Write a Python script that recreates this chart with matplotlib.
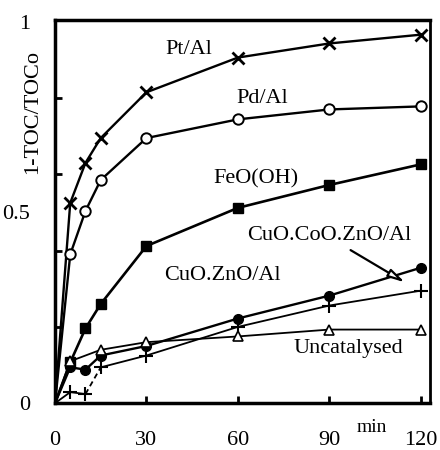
import numpy as np
import matplotlib
matplotlib.use("Agg")
import matplotlib.pyplot as plt
from matplotlib.ticker import FixedLocator

plt.rcParams["font.family"] = ["Liberation Serif", "DejaVu Serif"]

# data (time in min, 1-TOC/TOCo)
t = [0, 5, 10, 15, 30, 60, 90, 120]
pt_al = [0, 0.525, 0.63, 0.695, 0.815, 0.906, 0.943, 0.966]
pd_al = [0, 0.39, 0.504, 0.585, 0.695, 0.744, 0.77, 0.778]
feooh = [0, 0.107, 0.196, 0.26, 0.412, 0.512, 0.572, 0.626]
cuo_coo = [0, 0.094, 0.088, 0.125, 0.15, 0.222, 0.282, 0.355]
cuo_zno = [0, 0.029, 0.024, 0.094, 0.125, 0.2, 0.256, 0.295]
t_unc = [0, 5, 15, 30, 60, 90, 120]
uncat = [0, 0.11, 0.14, 0.16, 0.175, 0.193, 0.193]

fig = plt.figure(figsize=(4.4, 4.5), dpi=100)
ax = fig.add_axes([0.125, 0.104, 0.852, 0.852])

# catalysed curves (no marker drawn at the origin)
skip0 = slice(1, None)
ax.plot(t, pt_al, color="black", lw=1.7, marker="x", ms=9, mew=2, markevery=skip0)
ax.plot(t, pd_al, color="black", lw=1.7, marker="o", ms=7.5, mfc="white", mew=1.4,
        markevery=skip0)
ax.plot(t, feooh, color="black", lw=1.9, marker="s", ms=7.5, markevery=skip0)
ax.plot(t, cuo_coo, color="black", lw=1.7, marker="o", ms=7, markevery=skip0)
# CuO.ZnO/Al, with the dashed bit between 10 and 15 min
ax.plot(t[:3], cuo_zno[:3], color="black", lw=1.3, marker="+", ms=10, mew=1.5)
ax.plot(t[2:4], cuo_zno[2:4], color="black", lw=1.3, ls=(0, (3, 2)))
ax.plot(t[3:], cuo_zno[3:], color="black", lw=1.3, marker="+", ms=10, mew=1.5)
ax.plot(t_unc, uncat, color="black", lw=1.3, marker="^", ms=6.5, mfc="white", mew=1.2,
        markevery=skip0)

# labels on the curves
fs = 16
ax.text(43.8, 0.927, "Pt/Al", fontsize=fs, ha="center", va="center")
ax.text(68, 0.80, "Pd/Al", fontsize=fs, ha="center", va="center")
ax.text(65.8, 0.587, "FeO(OH)", fontsize=fs, ha="center", va="center")
ax.text(55, 0.334, "CuO.ZnO/Al", fontsize=fs, ha="center", va="center")
ax.text(90, 0.439, "CuO.CoO.ZnO/Al", fontsize=fs, ha="center", va="center")
ax.text(96.2, 0.144, "Uncatalysed", fontsize=fs, ha="center", va="center")
ax.annotate("", xy=(115.6, 0.313), xytext=(96.2, 0.405),
            arrowprops=dict(arrowstyle="-|>,head_length=1.0,head_width=0.25",
                            fc="white", ec="black", lw=1.6))

ax.set_xlim(0, 123)
ax.set_ylim(0, 1.005)

ax.set_xticks([0, 30, 60, 90, 120])
ax.set_xticklabels(["0", "30", "60", "90", "120"], fontsize=fs)
ax.tick_params(axis="x", direction="in", length=5, width=2, pad=20)
ax.set_yticks([0, 0.5, 1])
ax.set_yticklabels(["0", "0.5", "1"], fontsize=fs)
ax.tick_params(axis="y", which="major", length=0, pad=18)
ax.yaxis.set_minor_locator(FixedLocator([0.2, 0.4, 0.6, 0.8]))
ax.tick_params(axis="y", which="minor", direction="in", length=5, width=2)

for side in ["left", "bottom", "top"]:
    ax.spines[side].set_linewidth(2.5)
ax.spines["right"].set_linewidth(2)

fig.text(33 / 440, 1 - 112 / 450, "1-TOC/TOCo", fontsize=fs, rotation=90,
         ha="center", va="center")
fig.text(372 / 440, 1 - 427 / 450, "min", fontsize=14, ha="center", va="center")

fig.savefig("out.png", dpi=100)
